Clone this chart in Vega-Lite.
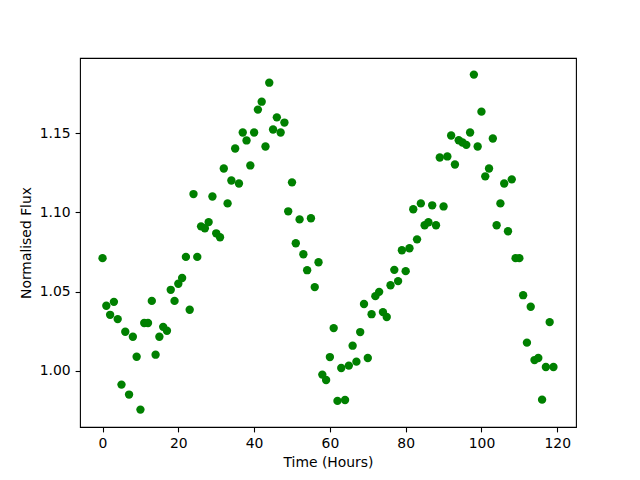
{
  "$schema": "https://vega.github.io/schema/vega-lite/v6.json",
  "width": 496,
  "height": 369,
  "autosize": {"type": "none"},
  "padding": {"left": 80, "top": 58, "right": 64, "bottom": 53},
  "background": "white",
  "config": {
    "view": {"stroke": "black", "strokeWidth": 1.1},
    "axis": {
      "domain": false,
      "grid": false,
      "ticks": true,
      "tickColor": "black",
      "tickSize": 4.9,
      "tickWidth": 1.1,
      "labelFont": "DejaVu Sans",
      "labelFontSize": 13.9,
      "labelColor": "black",
      "labelPadding": 4.9,
      "titleFont": "DejaVu Sans",
      "titleFontSize": 13.9,
      "titleFontWeight": "normal",
      "titleColor": "black"
    }
  },
  "data": {
    "values": [
      {"t": 0, "f": 1.0711}, {"t": 1, "f": 1.041}, {"t": 2, "f": 1.0353}, {"t": 3, "f": 1.0435},
      {"t": 4, "f": 1.0326}, {"t": 5, "f": 0.9912}, {"t": 6, "f": 1.0246}, {"t": 7, "f": 0.9849},
      {"t": 8, "f": 1.0214}, {"t": 9, "f": 1.0088}, {"t": 10, "f": 0.9754}, {"t": 11, "f": 1.0301},
      {"t": 12, "f": 1.0301}, {"t": 13, "f": 1.0441}, {"t": 14, "f": 1.0101}, {"t": 15, "f": 1.0214},
      {"t": 16, "f": 1.0277}, {"t": 17, "f": 1.0252}, {"t": 18, "f": 1.0511}, {"t": 19, "f": 1.0441},
      {"t": 20, "f": 1.0549}, {"t": 21, "f": 1.0586}, {"t": 22, "f": 1.0719}, {"t": 23, "f": 1.0385},
      {"t": 24, "f": 1.1116}, {"t": 25, "f": 1.0719}, {"t": 26, "f": 1.0912}, {"t": 27, "f": 1.09},
      {"t": 28, "f": 1.0939}, {"t": 29, "f": 1.1101}, {"t": 30, "f": 1.0868}, {"t": 31, "f": 1.0843},
      {"t": 32, "f": 1.1278}, {"t": 33, "f": 1.1057}, {"t": 34, "f": 1.1202}, {"t": 35, "f": 1.1404},
      {"t": 36, "f": 1.1183}, {"t": 37, "f": 1.1505}, {"t": 38, "f": 1.1455}, {"t": 39, "f": 1.1297},
      {"t": 40, "f": 1.1505}, {"t": 41, "f": 1.165}, {"t": 42, "f": 1.17}, {"t": 43, "f": 1.1417},
      {"t": 44, "f": 1.182}, {"t": 45, "f": 1.1524}, {"t": 46, "f": 1.1601}, {"t": 47, "f": 1.1505},
      {"t": 48, "f": 1.1568}, {"t": 49, "f": 1.1007}, {"t": 50, "f": 1.119}, {"t": 51, "f": 1.0805},
      {"t": 52, "f": 1.0956}, {"t": 53, "f": 1.0736}, {"t": 54, "f": 1.0635}, {"t": 55, "f": 1.0963},
      {"t": 56, "f": 1.0528}, {"t": 57, "f": 1.0685}, {"t": 58, "f": 0.9975}, {"t": 59, "f": 0.9941},
      {"t": 60, "f": 1.0086}, {"t": 61, "f": 1.0269}, {"t": 62, "f": 0.9809}, {"t": 63, "f": 1.0017},
      {"t": 64, "f": 0.9815}, {"t": 65, "f": 1.0032}, {"t": 66, "f": 1.0158}, {"t": 67, "f": 1.0057},
      {"t": 68, "f": 1.0244}, {"t": 69, "f": 1.0421}, {"t": 70, "f": 1.008}, {"t": 71, "f": 1.0357},
      {"t": 72, "f": 1.0471}, {"t": 73, "f": 1.0498}, {"t": 74, "f": 1.037}, {"t": 75, "f": 1.0339},
      {"t": 76, "f": 1.054}, {"t": 77, "f": 1.0637}, {"t": 78, "f": 1.0566}, {"t": 79, "f": 1.0761},
      {"t": 80, "f": 1.0629}, {"t": 81, "f": 1.0774}, {"t": 82, "f": 1.102}, {"t": 83, "f": 1.083},
      {"t": 84, "f": 1.1057}, {"t": 85, "f": 1.0919}, {"t": 86, "f": 1.0938}, {"t": 87, "f": 1.1045},
      {"t": 88, "f": 1.0919}, {"t": 89, "f": 1.1347}, {"t": 90, "f": 1.1038}, {"t": 91, "f": 1.1354},
      {"t": 92, "f": 1.1486}, {"t": 93, "f": 1.1303}, {"t": 94, "f": 1.1456}, {"t": 95, "f": 1.1442},
      {"t": 96, "f": 1.1427}, {"t": 97, "f": 1.1505}, {"t": 98, "f": 1.1871}, {"t": 99, "f": 1.1417},
      {"t": 100, "f": 1.1637}, {"t": 101, "f": 1.1228}, {"t": 102, "f": 1.1278}, {"t": 103, "f": 1.1467},
      {"t": 104, "f": 1.0919}, {"t": 105, "f": 1.1057}, {"t": 106, "f": 1.1183}, {"t": 107, "f": 1.0881},
      {"t": 108, "f": 1.1209}, {"t": 109, "f": 1.0711}, {"t": 110, "f": 1.0711}, {"t": 111, "f": 1.0477},
      {"t": 112, "f": 1.0177}, {"t": 113, "f": 1.0404}, {"t": 114, "f": 1.0067}, {"t": 115, "f": 1.008},
      {"t": 116, "f": 0.9817}, {"t": 117, "f": 1.0023}, {"t": 118, "f": 1.0307}, {"t": 119, "f": 1.0023}
    ]
  },
  "mark": {"type": "point", "shape": "circle", "filled": true, "color": "#008000", "opacity": 1, "size": 70},
  "encoding": {
    "x": {
      "field": "t",
      "type": "quantitative",
      "title": "Time (Hours)",
      "scale": {"domain": [-5.95, 124.95], "nice": false, "zero": false},
      "axis": {"values": [0, 20, 40, 60, 80, 100, 120], "format": "d", "titlePadding": 5}
    },
    "y": {
      "field": "f",
      "type": "quantitative",
      "title": "Normalised Flux",
      "scale": {"domain": [0.9644, 1.1976], "nice": false, "zero": false},
      "axis": {"values": [1.0, 1.05, 1.1, 1.15], "format": ".2f", "titlePadding": 6}
    }
  }
}
